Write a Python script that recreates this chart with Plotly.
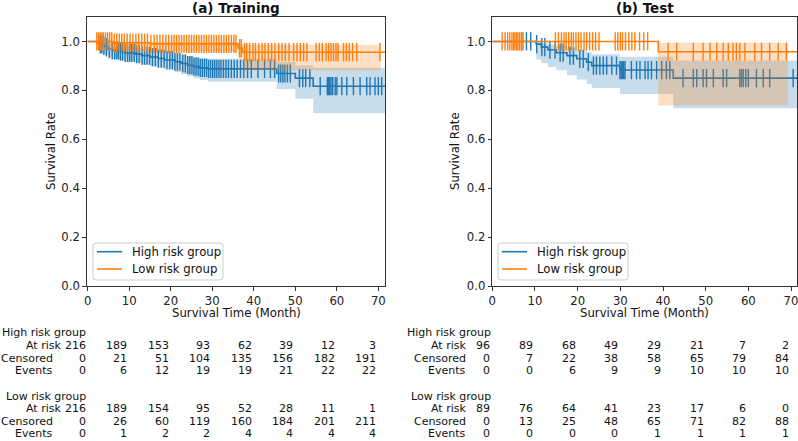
import plotly.graph_objects as go

# ---------------- data ----------------
ticks = [0, 10, 20, 30, 40, 50, 60, 70]
groups = ["High risk group", "Low risk group"]

# Training, high risk: event times, survival, CI
tr_hi_t = [2.4, 3.0, 3.6, 4.3, 5.0, 5.8, 7.5, 9.0, 11.5, 13.0, 15.0, 17.0, 18.5, 21.0, 22.5, 24.0, 25.5, 27.0, 29.0, 45.5, 50.0, 54.3]
tr_hi_s = [0.994, 0.988, 0.982, 0.976, 0.969, 0.963, 0.958, 0.953, 0.948, 0.942, 0.936, 0.930, 0.924, 0.917, 0.910, 0.903, 0.897, 0.892, 0.888, 0.869, 0.850, 0.817]
tr_hi_lo = [0.965, 0.958, 0.951, 0.944, 0.936, 0.929, 0.923, 0.918, 0.912, 0.905, 0.898, 0.891, 0.884, 0.875, 0.866, 0.858, 0.850, 0.842, 0.835, 0.806, 0.766, 0.707]
tr_hi_up = [0.999, 0.997, 0.994, 0.991, 0.987, 0.982, 0.979, 0.976, 0.972, 0.968, 0.964, 0.959, 0.955, 0.950, 0.944, 0.939, 0.934, 0.931, 0.929, 0.916, 0.902, 0.892]
tr_hi_end = 71.6
tr_hi_band_end = 71.6
tr_hi_cens = [3.0, 3.4, 3.9, 4.5, 5.2, 5.9, 6.5, 7.0, 7.4, 7.9, 8.4, 9.0, 9.6, 10.1, 10.6, 11.2, 11.8, 12.4, 13.1, 13.7,
              14.3, 14.9, 15.6, 16.3, 17.0, 17.7, 18.4, 19.1, 19.8, 20.4, 21.0, 21.6, 22.2, 22.9, 23.5, 24.1, 24.6, 25.1,
              25.6, 26.1, 26.6, 27.1, 27.6, 28.1, 28.6, 29.1, 29.6, 30.1, 30.6, 31.1, 31.6, 32.1, 32.7, 33.3, 33.9, 34.6,
              35.3, 36.0, 36.8, 37.6, 38.5, 39.4, 41.0, 42.6, 44.0, 45.0, 46.0, 46.5, 47.0, 47.5, 48.1, 48.8, 51.0, 51.8,
              52.5, 53.5, 56.0, 57.7, 58.0, 58.3, 58.6, 59.0, 59.6, 60.0, 61.2, 62.4, 64.0, 65.6, 67.2, 68.0, 69.2, 70.0, 70.8]

# Training, low risk
tr_lo_t = [6.0, 15.0, 36.2, 37.3]
tr_lo_s = [0.995, 0.990, 0.973, 0.956]
tr_lo_lo = [0.967, 0.960, 0.930, 0.881]
tr_lo_up = [0.999, 0.998, 0.992, 0.987]
tr_lo_end = 71.6
tr_lo_band_end = 70.6
tr_lo_cens = [2.2, 2.6, 3.0, 3.4, 3.8, 4.3, 4.8, 5.3, 5.8, 6.4, 7.0, 7.6, 8.2, 8.8, 9.5, 10.2, 10.9, 11.6, 12.3, 13.0,
              13.7, 14.4, 15.2, 16.0, 16.7, 17.4, 18.1, 18.8, 19.5, 20.2, 20.8, 21.4, 22.0, 22.6, 23.2, 23.8, 24.4, 25.0,
              25.6, 26.2, 26.8, 27.4, 28.0, 28.6, 29.2, 29.8, 30.4, 31.0, 31.6, 32.2, 32.8, 33.4, 34.0, 34.6, 35.2, 35.7,
              36.6, 37.0, 37.8, 38.3, 39.0, 39.8, 40.4, 41.2, 42.0, 42.7, 43.5, 44.3, 45.1, 46.0, 46.8, 47.6, 48.5, 49.6,
              50.4, 51.2, 52.0, 52.8, 55.0, 55.8, 56.5, 57.4, 58.0, 58.6, 59.2, 59.8, 60.3, 61.6, 62.3, 63.0, 63.8, 64.8, 70.4]

# Test, high risk
te_hi_t = [10.3, 11.5, 13.0, 15.0, 17.5, 19.8, 22.1, 23.3, 29.9, 42.4]
te_hi_s = [0.989, 0.977, 0.966, 0.954, 0.942, 0.929, 0.915, 0.901, 0.883, 0.850]
te_hi_lo = [0.926, 0.912, 0.896, 0.882, 0.862, 0.844, 0.826, 0.810, 0.785, 0.727]
te_hi_up = [0.998, 0.994, 0.988, 0.982, 0.974, 0.966, 0.957, 0.948, 0.937, 0.922]
te_hi_end = 71.4
te_hi_band_end = 71.4
te_hi_cens = [6.9, 8.0, 9.0, 10.4, 11.6, 12.3, 13.5, 14.7, 15.9, 16.6, 18.2, 19.0, 20.5, 21.3, 22.5, 23.7, 24.4, 25.2,
              26.0, 26.8, 28.0, 29.1, 29.9, 30.2, 30.5, 30.8, 31.1, 32.6, 33.8, 34.6, 35.8, 36.5, 37.3, 38.5, 39.7, 40.8,
              41.6, 44.7, 47.1, 47.9, 49.4, 50.2, 51.8, 54.1, 54.9, 58.0, 58.4, 58.8, 59.4, 60.0, 61.9, 63.5, 65.0, 70.5]

# Test, low risk
te_lo_t = [38.9]
te_lo_s = [0.958]
te_lo_lo = [0.738]
te_lo_up = [0.995]
te_lo_end = 71.4
te_lo_band_end = 69.3
te_lo_cens = [2.3, 3.0, 3.6, 4.1, 4.6, 5.0, 5.3, 5.7, 6.0, 6.4, 6.8, 7.2, 14.8, 15.5, 16.2, 16.8, 17.3, 17.9, 18.5, 19.0,
              19.6, 20.2, 20.8, 21.5, 22.1, 22.8, 23.5, 24.2, 25.0, 28.8, 29.4, 30.0, 30.5, 31.2, 32.0, 32.7, 33.4, 34.5,
              35.5, 36.4, 41.2, 43.2, 47.1, 49.4, 51.0, 52.6, 54.1, 55.3, 56.4, 57.2, 58.0, 59.2, 61.5, 63.1, 65.0, 67.0, 68.9]

# At-risk tables
tr_hi_atrisk = [216, 189, 153, 93, 62, 39, 12, 3]
tr_hi_censn = [0, 21, 51, 104, 135, 156, 182, 191]
tr_hi_events = [0, 6, 12, 19, 19, 21, 22, 22]
tr_lo_atrisk = [216, 189, 154, 95, 52, 28, 11, 1]
tr_lo_censn = [0, 26, 60, 119, 160, 184, 201, 211]
tr_lo_events = [0, 1, 2, 2, 4, 4, 4, 4]
te_hi_atrisk = [96, 89, 68, 49, 29, 21, 7, 2]
te_hi_censn = [0, 7, 22, 38, 58, 65, 79, 84]
te_hi_events = [0, 0, 6, 9, 9, 10, 10, 10]
te_lo_atrisk = [89, 76, 64, 41, 23, 17, 6, 0]
te_lo_censn = [0, 13, 25, 48, 65, 71, 82, 88]
te_lo_events = [0, 0, 0, 0, 1, 1, 1, 1]

# ---------------- styling ----------------
W, H = 798, 441
FONT = "DejaVu Sans"
FS = 11.7
TFS = 11.0
BLUE, ORANGE = "#1f77b4", "#ff7f0e"
BLUE_F, ORANGE_F = "rgba(31,119,180,0.25)", "rgba(255,127,14,0.25)"

fig = go.Figure()


def step_at(times, surv, c):
    v = 1.0
    for t, s in zip(times, surv):
        if t <= c:
            v = s
    return v


def add_group(xa, ya, times, surv, lo, up, end, band_end, cens, color, fillc, name):
    bx = [0] + times + [band_end]
    blo = [1.0] + lo + [lo[-1]]
    bup = [1.0] + up + [up[-1]]
    fig.add_trace(go.Scatter(x=bx, y=blo, mode="lines", line=dict(width=0, shape="hv", color=fillc),
                             xaxis=xa, yaxis=ya, showlegend=False, hoverinfo="skip"))
    fig.add_trace(go.Scatter(x=bx, y=bup, mode="lines", line=dict(width=0, shape="hv", color=fillc),
                             fill="tonexty", fillcolor=fillc, xaxis=xa, yaxis=ya, showlegend=False, hoverinfo="skip"))
    lx = [0] + times + [end]
    ly = [1.0] + surv + [surv[-1]]
    fig.add_trace(go.Scatter(x=lx, y=ly, mode="lines", line=dict(width=1.6, shape="hv", color=color),
                             xaxis=xa, yaxis=ya, name=name, showlegend=False))
    cy = [step_at(times, surv, c) for c in cens]
    fig.add_trace(go.Scatter(x=cens, y=cy, mode="markers",
                             marker=dict(symbol="line-ns", size=13, line=dict(width=1.4, color=color), color=color),
                             xaxis=xa, yaxis=ya, showlegend=False, hoverinfo="skip"))


add_group("x", "y", tr_hi_t, tr_hi_s, tr_hi_lo, tr_hi_up, tr_hi_end, tr_hi_band_end, tr_hi_cens, BLUE, BLUE_F, groups[0])
add_group("x", "y", tr_lo_t, tr_lo_s, tr_lo_lo, tr_lo_up, tr_lo_end, tr_lo_band_end, tr_lo_cens, ORANGE, ORANGE_F, groups[1])
add_group("x2", "y2", te_hi_t, te_hi_s, te_hi_lo, te_hi_up, te_hi_end, te_hi_band_end, te_hi_cens, BLUE, BLUE_F, groups[0])
add_group("x2", "y2", te_lo_t, te_lo_s, te_lo_lo, te_lo_up, te_lo_end, te_lo_band_end, te_lo_cens, ORANGE, ORANGE_F, groups[1])

ydom = [1 - 286 / H, 1 - 17 / H]
axis_common = dict(showline=True, mirror=True, linecolor="#333333", linewidth=1, showgrid=False, zeroline=False,
                   ticks="outside", ticklen=3.5, tickwidth=0.8, tickcolor="#333333", automargin=False,
                   ticklabeloverflow="allow",
                   tickfont=dict(family=FONT, size=FS, color="#222222"))
yvals = [0.0, 0.2, 0.4, 0.6, 0.8, 1.0]
ytext = ["%.1f" % v for v in yvals]

fig.update_layout(
    width=W, height=H, margin=dict(l=0, r=0, t=0, b=0, autoexpand=False),
    plot_bgcolor="white", paper_bgcolor="white", showlegend=False,
    font=dict(family=FONT, size=FS, color="#222222"),
    xaxis=dict(domain=[86.7 / W, 385 / W], range=[-0.24, 71.6], tickvals=ticks, anchor="y", **axis_common),
    yaxis=dict(domain=ydom, range=[0, 1.1], tickvals=yvals, ticktext=ytext, anchor="x", **axis_common),
    xaxis2=dict(domain=[492.3 / W, 797 / W], range=[0, 71.4], tickvals=ticks, anchor="y2", **axis_common),
    yaxis2=dict(domain=ydom, range=[0, 1.1], tickvals=yvals, ticktext=ytext, anchor="x2", **axis_common),
)


def ann(text, px, py, xanchor="center", size=FS, bold=False, angle=0, xref="paper", xval=None, xshift=0):
    fig.add_annotation(text=("<b>%s</b>" % text) if bold else text,
                       x=(px / W) if xval is None else xval, xref=xref,
                       y=1 - py / H, yref="paper", xanchor=xanchor, yanchor="middle",
                       showarrow=False, borderpad=0, textangle=angle, xshift=xshift,
                       font=dict(family=FONT, size=size, color="#111111"))


# legends (matplotlib-style boxes), one per panel
def legend_box(x0, x1, y0, y1, r=3):
    X0, X1 = x0 / W, x1 / W
    Y0, Y1 = 1 - y1 / H, 1 - y0 / H
    rx, ry = r / W, r / H
    path = (f"M {X0 + rx},{Y1} L {X1 - rx},{Y1} Q {X1},{Y1} {X1},{Y1 - ry} L {X1},{Y0 + ry} "
            f"Q {X1},{Y0} {X1 - rx},{Y0} L {X0 + rx},{Y0} Q {X0},{Y0} {X0},{Y0 + ry} L {X0},{Y1 - ry} "
            f"Q {X0},{Y1} {X0 + rx},{Y1} Z")
    fig.add_shape(type="path", path=path, xref="paper", yref="paper",
                  fillcolor="rgba(255,255,255,0.8)", line=dict(color="#cccccc", width=1), layer="above")


for bx0 in (93, 498):
    legend_box(bx0, bx0 + 130, 243, 280)
    for gi, (col, ly) in enumerate(zip([BLUE, ORANGE], [251.7, 269.0])):
        fig.add_shape(type="line", xref="paper", yref="paper", x0=(bx0 + 4) / W, x1=(bx0 + 29) / W,
                      y0=1 - ly / H, y1=1 - ly / H, line=dict(color=col, width=1.6), layer="above")
        ann(groups[gi], bx0 + 38, ly, xanchor="left")

# titles and axis titles
ann("(a) Training", 236, 7.5, size=13.5, bold=True)
ann("(b) Test", 645, 7.5, size=13.5, bold=True)
ann("Survival Rate", 51, 151, angle=-90)
ann("Survival Rate", 455, 151, angle=-90)
ann("Survival Time (Month)", 236.5, 313)
ann("Survival Time (Month)", 644.5, 313)

# at-risk tables
row_y_hi = [332.0, 345.5, 358.0, 370.5]
row_y_lo = [396.0, 408.5, 421.0, 433.5]
panels = [
    ("x", 87, [62, 53.5, 53.5], [(tr_hi_atrisk, tr_hi_censn, tr_hi_events), (tr_lo_atrisk, tr_lo_censn, tr_lo_events)]),
    ("x2", 492.5, [467, 467, 467], [(te_hi_atrisk, te_hi_censn, te_hi_events), (te_lo_atrisk, te_lo_censn, te_lo_events)]),
]
row_names = ["At risk", "Censored", "Events"]
for xref, head_x, lab_x, tables in panels:
    for gi, (rows_y, tab) in enumerate(zip([row_y_hi, row_y_lo], tables)):
        ann(groups[gi], head_x, rows_y[0], xanchor="right", size=TFS)
        for ri in range(3):
            ann(row_names[ri], lab_x[ri], rows_y[ri + 1], xanchor="right", size=TFS)
            for ci, tk in enumerate(ticks):
                ann(str(tab[ri][ci]), 0, rows_y[ri + 1], xanchor="right", xref=xref, xval=tk, xshift=-1, size=TFS)

fig.write_html("out.html", config={"displayModeBar": False},
               post_script="document.body.style.margin='0';document.body.style.overflow='hidden';")
